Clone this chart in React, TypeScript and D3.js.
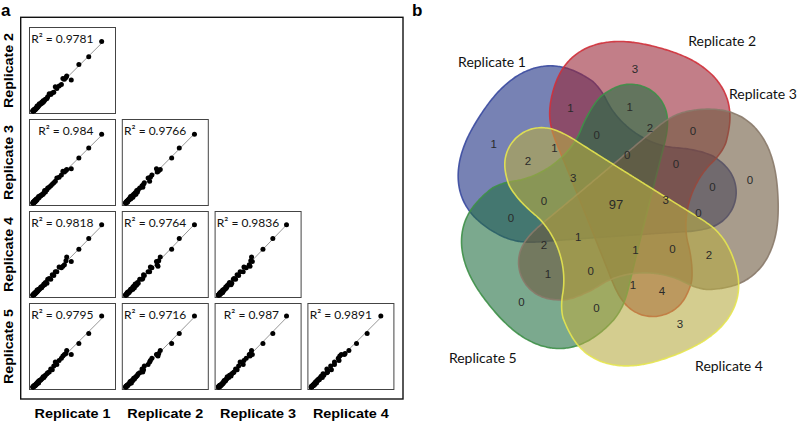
import React from 'react';
import * as d3 from 'd3';

// ---------- Panel a data ----------
const replicateNames = ['Replicate 1', 'Replicate 2', 'Replicate 3', 'Replicate 4', 'Replicate 5'];

const rep1 = [91, 74, 61, 51, 45, 44, 42, 40, 38, 35, 32, 30, 28, 26, 24, 22, 20, 19, 17, 16, 15, 14, 13, 12, 11, 10, 9, 8, 8, 7, 6, 6, 5, 5, 4, 4, 3, 3, 2, 2, 1, 1, 0.5, 0.5, 3.5, 2.5, 1.5, 0.8];
const rep2 = [91, 71, 61, 41, 46, 44, 42, 43, 35, 33, 30, 32, 25, 24, 22, 23, 19, 17, 16, 15, 13, 14, 11, 12, 10, 9, 10, 7, 8, 6, 7, 5, 5, 4, 4, 3, 3, 2, 2, 1, 1, 1, 1, 0.5, 2.5, 3, 2, 0.6];
const rep3 = [90, 72, 59, 45, 44, 43, 41, 42, 37, 34, 33, 29, 27, 25, 23, 21, 20, 18, 15, 17, 14, 12, 12, 11, 10, 10, 8, 9, 7, 7, 6, 5, 6, 4, 5, 3, 4, 2, 3, 1, 2, 1, 0.5, 0.5, 3, 2, 1.5, 1];
const rep4 = [92, 74, 60, 44, 50, 45, 40, 38, 36, 37, 31, 31, 26, 27, 21, 22, 21, 16, 17, 14, 15, 13, 12, 10, 11, 9, 8, 8, 7, 6, 7, 5, 4, 5, 4, 3, 3, 2, 2, 1, 1, 1, 0.5, 0.5, 4, 3, 1.5, 0.8];
const rep5 = [93, 70, 57, 43, 48, 44, 43, 41, 38, 35, 30, 33, 28, 23, 24, 20, 19, 18, 16, 15, 13, 14, 12, 11, 10, 9, 9, 8, 6, 7, 6, 5, 5, 4, 4, 3, 3, 2, 2, 2, 1, 1, 0.5, 0.5, 3, 2.5, 2, 0.7];
const reps = [rep1, rep2, rep3, rep4, rep5];

// pairs (x replicate, y replicate) and their R² values
const pairX = [1, 1, 2, 1, 2, 3, 1, 2, 3, 4];
const pairY = [2, 3, 3, 4, 4, 4, 5, 5, 5, 5];
const pairR2 = ['0.9781', '0.984', '0.9766', '0.9818', '0.9764', '0.9836', '0.9795', '0.9716', '0.987', '0.9891'];

// ---------- Panel b data ----------
const vennRegions = ['1', '2', '3', '4', '5', '12', '23', '34', '45', '15', '13', '24', '35', '14', '25', '125', '123', '234', '345', '145', '235', '134', '245', '135', '124', '1235', '2345', '1345', '1245', '1234', '12345'];
const vennCounts = [1, 3, 0, 3, 0, 1, 0, 2, 0, 0, 0, 4, 1, 2, 1, 0, 0, 0, 0, 0, 2, 0, 1, 2, 1, 0, 1, 1, 3, 3, 97];

// styles
const vennFill = ['#14287e', '#9a2838', '#6e5a40', '#b8ac44', '#237042'];
const vennAlpha = [0.58, 0.6, 0.6, 0.6, 0.6];
const vennStroke = ['#3a4aa0', '#d0303a', '#8a7a6a', '#e6e650', '#3e9048'];
const drawOrder = [0, 1, 4, 2, 3];
const titleAngles = [-131, -57, -37, 55, 131];
const titleRadii = [189, 195, 184, 197, 203];

const PANEL = 86;
const ORIGIN_X = 29.5;
const ORIGIN_Y = 27.5;
const STEP_X = 92.8;
const STEP_Y = 92;

function regression(xs: number[], ys: number[]) {
  const mx = d3.mean(xs) as number;
  const my = d3.mean(ys) as number;
  let sxy = 0, sxx = 0;
  xs.forEach((x, i) => { sxy += (x - mx) * (ys[i] - my); sxx += (x - mx) * (x - mx); });
  const b = sxy / sxx;
  return { b, a: my - b * mx };
}

function ScatterPanel({ xi, yi, r2 }: { xi: number; yi: number; r2: string }) {
  const col = xi - 1;
  const row = yi - 2;
  const px = ORIGIN_X + col * STEP_X;
  const py = ORIGIN_Y + row * STEP_Y;
  const xs = reps[xi - 1];
  const ys = reps[yi - 1];
  const x = d3.scaleLinear().domain([0, 100]).range([px + 3, px + 79]);
  const y = d3.scaleLinear().domain([0, 100]).range([py + PANEL - 2, py + PANEL - 79]);
  const { a, b } = regression(xs, ys);
  const [x0, x1] = d3.extent(xs) as [number, number];
  return (
    <g>
      <rect x={px} y={py} width={PANEL} height={PANEL} fill="white" stroke="#444" strokeWidth={1} />
      <line x1={x(x0)} y1={y(a + b * x0)} x2={x(x1)} y2={y(a + b * x1)} stroke="#8a8a8a" strokeWidth={0.9} />
      {xs.map((v, i) => (
        <circle key={i} cx={x(v)} cy={y(ys[i])} r={2.5} fill="#000" />
      ))}
      <text x={px + 64} y={py + 15.5} textAnchor="end" fontFamily="Lato, 'Open Sans', sans-serif" fontSize={12} fill="#111">
        {'R² = ' + r2}
      </text>
    </g>
  );
}

// ---------- Venn geometry ----------
const VC = [616, 204];
const BASE = -147;
const STEP = 72;
const rad = (deg: number) => (deg * Math.PI) / 180;
const theta = (k: number) => BASE + STEP * (((k % 5) + 5) % 5);
const LOBE = { cu: 92, cv: 0, au: 70, av: 90, n: 2.4 };
const TAIL = { cu: -63, cv: 55, r: 38 };
const DENT = { cu: 20, cv: 165, r: 95 };
const STAR = { cu: 30, cv: 15 };

function toWorld(u: number, v: number, thDeg: number): [number, number] {
  const t = rad(thDeg);
  return [VC[0] + u * Math.cos(t) - v * Math.sin(t), VC[1] + u * Math.sin(t) + v * Math.cos(t)];
}

function polar(angleDeg: number, r: number): [number, number] {
  return [VC[0] + r * Math.cos(rad(angleDeg)), VC[1] + r * Math.sin(rad(angleDeg))];
}

// local outline: hull of lobe and tail, with a shallow dent, radially smoothed
function localOutline(): [number, number][] {
  const pts: [number, number][] = [];
  const e = 2 / LOBE.n;
  for (let i = 0; i < 160; i++) {
    const t = (i / 160) * Math.PI * 2;
    const c = Math.cos(t), s = Math.sin(t);
    pts.push([LOBE.cu + LOBE.au * Math.sign(c) * Math.pow(Math.abs(c), e), LOBE.cv + LOBE.av * Math.sign(s) * Math.pow(Math.abs(s), e)]);
  }
  for (let i = 0; i < 80; i++) {
    const t = (i / 80) * Math.PI * 2;
    pts.push([TAIL.cu + TAIL.r * Math.cos(t), TAIL.cv + TAIL.r * Math.sin(t)]);
  }
  const hull = d3.polygonHull(pts) as [number, number][];
  const M = 360;
  const radii: number[] = [];
  for (let i = 0; i < M; i++) {
    const a = (i / M) * Math.PI * 2;
    const dx = Math.cos(a), dy = Math.sin(a);
    let best = 0;
    for (let j = 0; j < hull.length; j++) {
      const p1 = hull[j], p2 = hull[(j + 1) % hull.length];
      const ex = p2[0] - p1[0], ey = p2[1] - p1[1];
      const den = dx * ey - dy * ex;
      if (Math.abs(den) < 1e-9) continue;
      const wx = p1[0] - STAR.cu, wy = p1[1] - STAR.cv;
      const t = (wx * ey - wy * ex) / den;
      const s = (wx * dy - wy * dx) / den;
      if (t > 0 && s >= 0 && s <= 1) best = Math.max(best, t);
    }
    const fx = STAR.cu - DENT.cu, fy = STAR.cv - DENT.cv;
    const bq = fx * dx + fy * dy;
    const cq = fx * fx + fy * fy - DENT.r * DENT.r;
    const disc = bq * bq - cq;
    if (disc > 0) {
      const tin = -bq - Math.sqrt(disc);
      if (tin > 0 && tin < best) best = tin;
    }
    radii.push(best);
  }
  const W = 5;
  const smooth = radii.map((_, i) => {
    let sum = 0;
    for (let k = -W; k <= W; k++) sum += radii[(i + k + M) % M];
    return sum / (2 * W + 1);
  });
  return smooth.map((r, i) => {
    const a = (i / M) * Math.PI * 2;
    return [STAR.cu + r * Math.cos(a), STAR.cv + r * Math.sin(a)] as [number, number];
  });
}

const OUTLINE = localOutline();

function shapePath(k: number) {
  const th = theta(k);
  const pts = OUTLINE.map(([u, v]) => toWorld(u, v, th));
  return d3.line().curve(d3.curveCatmullRomClosed)(pts) as string;
}

function regionPosition(code: string): [number, number] {
  const s = code.split('').map((c) => +c - 1);
  const has = (k: number) => s.includes(((k % 5) + 5) % 5);
  if (s.length === 5) return [VC[0], VC[1]];
  if (s.length === 1) return polar(theta(s[0]) - 7, 136);
  if (s.length === 2) {
    for (let k = 0; k < 5; k++) {
      if (has(k) && has(k + 1)) return polar(theta(k) + 31.6, 106);
      if (has(k) && has(k + 2)) return polar(theta(k + 2) - 7, 98);
    }
  }
  if (s.length === 3) {
    for (let k = 0; k < 5; k++) {
      if (has(k - 1) && has(k) && has(k + 1)) return polar(theta(k) + 41.5, 72);
    }
    for (let k = 0; k < 5; k++) {
      if (has(k) && has(k + 1) && has(k + 3)) return polar(theta(k) + 9.2, 83);
    }
  }
  if (s.length === 4) {
    for (let m = 0; m < 5; m++) {
      if (!has(m)) return polar(theta(m + 3) - 2, 50);
    }
  }
  return [VC[0], VC[1]];
}

function Venn() {
  return (
    <g>
      {drawOrder.map((k) => (
        <path key={k} d={shapePath(k)} fill={vennFill[k]} fillOpacity={vennAlpha[k]} stroke={vennStroke[k]} strokeWidth={1.6} strokeOpacity={0.9} />
      ))}
      {vennRegions.map((code, i) => {
        const [x, y] = regionPosition(code);
        return (
          <text key={code} x={x} y={y} textAnchor="middle" dominantBaseline="central" fontFamily="'Liberation Sans', Arial, sans-serif" fontSize={code.length === 5 ? 13 : 11.5} fill="#2a2a2a">
            {vennCounts[i]}
          </text>
        );
      })}
      {replicateNames.map((name, k) => {
        const [x, y] = polar(titleAngles[k], titleRadii[k]);
        return (
          <text key={name} x={x} y={y} textAnchor="middle" dominantBaseline="central" fontFamily="Lato, 'Open Sans', sans-serif" fontSize={14} fill="#111">
            {name}
          </text>
        );
      })}
    </g>
  );
}

export default function App() {
  return (
    <svg width={800} height={422} style={{ position: 'absolute', left: 0, top: 0, background: 'white' }}>
      <rect width={800} height={422} fill="white" />
      <text x={1} y={15.5} fontFamily="'Liberation Sans', Arial, sans-serif" fontWeight="bold" fontSize={17}>a</text>
      <text x={412} y={15.5} fontFamily="'Liberation Sans', Arial, sans-serif" fontWeight="bold" fontSize={17}>b</text>
      <rect x={20.7} y={17.3} width={382.3} height={381.7} fill="none" stroke="#111" strokeWidth={1.4} />
      {pairX.map((xi, i) => (
        <ScatterPanel key={i} xi={xi} yi={pairY[i]} r2={pairR2[i]} />
      ))}
      {replicateNames.slice(1).map((name, r) => {
        const cy = ORIGIN_Y + r * STEP_Y + PANEL / 2;
        return (
          <text key={name} transform={`translate(12.5,${cy}) rotate(-90)`} textAnchor="middle" fontFamily="'Liberation Sans', Arial, sans-serif" fontWeight="bold" fontSize={13} textLength={75} lengthAdjust="spacingAndGlyphs">
            {name}
          </text>
        );
      })}
      {replicateNames.slice(0, 4).map((name, c) => {
        const cx = ORIGIN_X + c * STEP_X + PANEL / 2;
        return (
          <text key={name} x={cx} y={418} textAnchor="middle" fontFamily="'Liberation Sans', Arial, sans-serif" fontWeight="bold" fontSize={13} textLength={76} lengthAdjust="spacingAndGlyphs">
            {name}
          </text>
        );
      })}
      <Venn />
    </svg>
  );
}
